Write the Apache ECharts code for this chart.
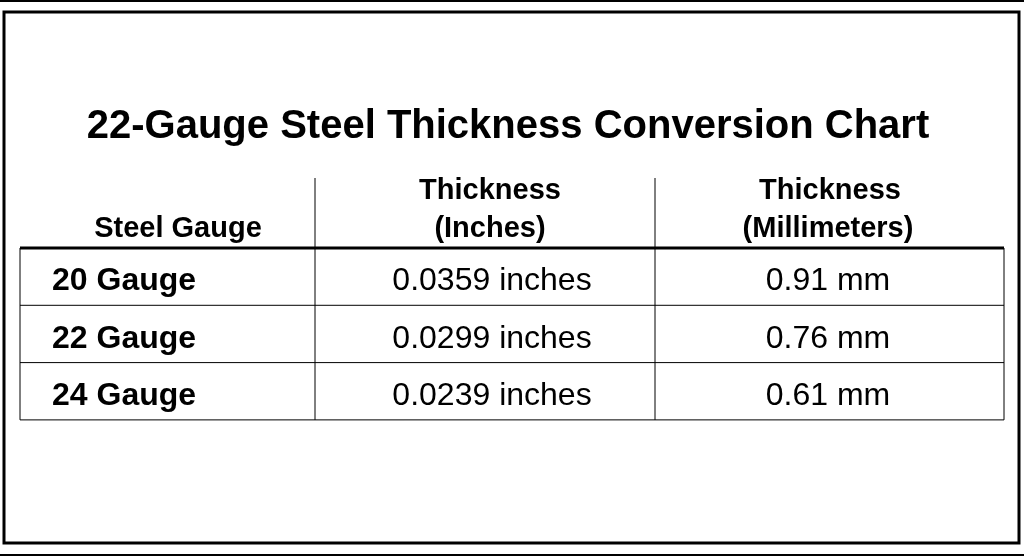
<!DOCTYPE html>
<html>
<head>
<meta charset="utf-8">
<script src="https://cdn.jsdelivr.net/npm/echarts@6/dist/echarts.min.js"></script>
<style>html,body{margin:0;padding:0;background:#fff}#chart{width:1024px;height:559px}</style>
</head>
<body>
<div id="chart"></div>
<script>
var title = '22-Gauge Steel Thickness Conversion Chart';
var headers = [['Steel Gauge'], ['Thickness', '(Inches)'], ['Thickness', '(Millimeters)']];
var gauges = ['20 Gauge', '22 Gauge', '24 Gauge'];
var inches = ['0.0359 inches', '0.0299 inches', '0.0239 inches'];
var millimeters = ['0.91 mm', '0.76 mm', '0.61 mm'];

var chartDom = document.getElementById('chart');
var myChart = echarts.init(chartDom);

var font = '"Liberation Sans", Arial, sans-serif';
var colX = [20, 315, 655, 1004];
var headTop = 178, headBottom = 248, rowH = 57.3;
var els = [];

function line(x1, y1, x2, y2, w) {
    els.push({ type: 'line', shape: { x1: x1, y1: y1, x2: x2, y2: y2 }, style: { stroke: '#000', lineWidth: w } });
}
function text(t, x, y, size, bold, align) {
    els.push({ type: 'text', x: x, y: y, style: { text: t, font: (bold ? 'bold ' : '') + size + 'px ' + font, fill: '#000', align: align || 'center', verticalAlign: 'middle' } });
}

// frame
line(0, 1, 1024, 1, 2);
line(0, 555, 1024, 555, 2);
els.push({ type: 'rect', shape: { x: 4, y: 12, width: 1015, height: 531 }, style: { fill: 'none', stroke: '#000', lineWidth: 3 } });

text(title, 508, 127, 40, true);

// header
text(headers[0][0], 178, 229, 29, true);
text(headers[1][0], 490, 191, 29, true);
text(headers[1][1], 490, 229, 29, true);
text(headers[2][0], 830, 191, 29, true);
text(headers[2][1], 828, 229, 29, true);

var bottom = headBottom + rowH * gauges.length;
line(colX[0], headBottom, colX[3], headBottom, 3);
line(colX[1], headTop, colX[1], bottom, 1);
line(colX[2], headTop, colX[2], bottom, 1);
line(colX[0], headBottom, colX[0], bottom, 1);
line(colX[3], headBottom, colX[3], bottom, 1);

gauges.forEach(function (g, i) {
    var y0 = headBottom + rowH * i, cy = y0 + rowH / 2 + 5;
    line(colX[0], y0 + rowH, colX[3], y0 + rowH, 1);
    text(g, 52, cy, 32, true, 'left');
    text(inches[i], 492, cy, 32, false);
    text(millimeters[i], 828, cy, 32, false);
});

myChart.setOption({ backgroundColor: '#fff', graphic: { elements: els } });
</script>
</body>
</html>
